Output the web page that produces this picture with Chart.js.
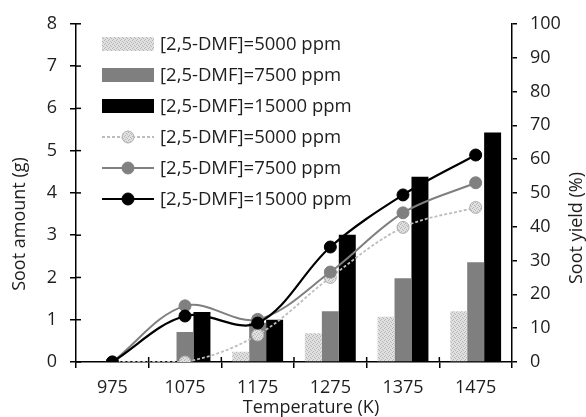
<!DOCTYPE html>
<html>
<head>
<meta charset="utf-8">
<script src="https://cdn.jsdelivr.net/npm/chart.js@4.4.1/dist/chart.umd.min.js"></script>
<style>
  html, body { margin: 0; padding: 0; background: #fff; }
  #wrap { width: 586px; height: 417px; }
</style>
</head>
<body>
<div id="wrap"><canvas id="c" width="586" height="417"></canvas></div>
<script>
// data
const temps = ['975', '1075', '1175', '1275', '1375', '1475'];
const legendNames = ['[2,5-DMF]=5000 ppm', '[2,5-DMF]=7500 ppm', '[2,5-DMF]=15000 ppm'];

// soot amount (g), bars, left axis
const soot5000 = [0, 0, 0.24, 0.68, 1.07, 1.2];
const soot7500 = [0, 0.71, 0.93, 1.2, 1.98, 2.36];
const soot15000 = [0, 1.18, 1.0, 3.01, 4.38, 5.43];

// soot yield (%), lines, right axis
const yield5000 = [0, 0, 8, 25, 39.8, 45.7];
const yield7500 = [0, 16.6, 12.6, 26.6, 44.1, 53];
const yield15000 = [0, 13.6, 11.5, 34, 49.4, 61.2];

const FONT = "'Open Sans', sans-serif";
const INK = '#1e1e1e';

// speckled light grey fill like the scanned bars
function speckle() {
    const p = document.createElement('canvas');
    p.width = 4; p.height = 4;
    const g = p.getContext('2d');
    g.fillStyle = '#e0e0e0';
    g.fillRect(0, 0, 4, 4);
    g.fillStyle = '#b5b5b5';
    g.fillRect(0, 0, 1, 1);
    g.fillRect(2, 1, 1, 1);
    g.fillRect(1, 3, 1, 1);
    g.fillRect(3, 2, 1, 1);
    return document.getElementById('c').getContext('2d').createPattern(p, 'repeat');
}
const lightFill = speckle();

function drawText(ctx, txt, x, y, rot) {
    ctx.save();
    ctx.translate(x, y);
    if (rot) ctx.rotate(-Math.PI / 2);
    ctx.font = '18px ' + FONT;
    ctx.fillStyle = INK;
    ctx.textAlign = 'center';
    ctx.textBaseline = 'middle';
    ctx.fillText(txt, 0, 0);
    ctx.restore();
}

// ticks on the inner side of the left and bottom axes, plus the axis titles
const extras = {
    id: 'extras',
    afterDraw(chart) {
        const ctx = chart.ctx;
        const y = chart.scales.y, x = chart.scales.x;
        ctx.save();
        ctx.strokeStyle = '#000';
        ctx.lineWidth = 1.5;
        y.ticks.forEach((t, i) => {
            const py = y.getPixelForTick(i);
            ctx.beginPath(); ctx.moveTo(y.right, py); ctx.lineTo(y.right + 5, py); ctx.stroke();
        });
        for (let i = 1; i < temps.length; i++) {
            const px = (x.getPixelForValue(i - 1) + x.getPixelForValue(i)) / 2;
            ctx.beginPath(); ctx.moveTo(px, x.top); ctx.lineTo(px, x.top - 5); ctx.stroke();
        }
        ctx.restore();
        drawText(ctx, 'Temperature (K)', 311, 408, false);
        drawText(ctx, 'Soot amount (g)', 20, 224, true);
        drawText(ctx, 'Soot yield (%)', 577, 228, true);
    }
};

// legend inside the plot, top-left
const insideLegend = {
    id: 'insideLegend',
    afterDraw(chart) {
        const ctx = chart.ctx;
        const x0 = 102, x1 = 154, tx = 160;
        let yy = 44;
        ctx.save();
        ctx.font = '18.5px ' + FONT;
        ctx.textBaseline = 'middle';
        chart.data.datasets.forEach(ds => {
            if (ds.type === 'bar') {
                ctx.fillStyle = ds.backgroundColor;
                ctx.fillRect(x0, yy - 7, x1 - x0, 14);
            } else {
                ctx.strokeStyle = ds.borderColor;
                ctx.lineWidth = ds.borderWidth;
                ctx.setLineDash(ds.borderDash || []);
                ctx.beginPath(); ctx.moveTo(x0, yy); ctx.lineTo(x1, yy); ctx.stroke();
                ctx.setLineDash([]);
                ctx.fillStyle = ds.pointBackgroundColor;
                ctx.beginPath(); ctx.arc((x0 + x1) / 2, yy, ds.pointRadius, 0, Math.PI * 2); ctx.fill();
                ctx.lineWidth = 1;
                ctx.strokeStyle = ds.pointBorderColor;
                ctx.stroke();
            }
            ctx.fillStyle = INK;
            ctx.fillText(ds.label, tx, yy + 1);
            yy += 31;
        });
        ctx.restore();
    }
};

function barSet(label, data, color) {
    return { type: 'bar', label, data, yAxisID: 'y', backgroundColor: color, borderWidth: 0, order: 5,
             barPercentage: 1.0, categoryPercentage: 0.7 };
}
function lineSet(label, data, color, width, dash, ptFill, ptBorder, order) {
    return { type: 'line', label, data, yAxisID: 'y2', borderColor: color, borderWidth: width,
             borderDash: dash, tension: 0.35, pointRadius: 6, pointBackgroundColor: ptFill,
             pointBorderColor: ptBorder, pointBorderWidth: 1, fill: false, order };
}

new Chart(document.getElementById('c'), {
    data: {
        labels: temps,
        datasets: [
            barSet(legendNames[0], soot5000, lightFill),
            barSet(legendNames[1], soot7500, '#7f7f7f'),
            barSet(legendNames[2], soot15000, '#000000'),
            lineSet(legendNames[0], yield5000, '#bdbdbd', 1.8, [3, 2], lightFill, '#b0b0b0', 3),
            lineSet(legendNames[1], yield7500, '#7f7f7f', 2, [], '#808080', '#808080', 2),
            lineSet(legendNames[2], yield15000, '#000000', 2.2, [], '#000000', '#000000', 1)
        ]
    },
    options: {
        responsive: false,
        animation: false,
        layout: { padding: { top: 21, right: 0, bottom: 0, left: 0 } },
        plugins: { legend: { display: false }, tooltip: { enabled: false } },
        scales: {
            x: {
                grid: { drawOnChartArea: false, color: '#000', lineWidth: 1.5, tickLength: 6, offset: true },
                border: { color: '#000', width: 1.5 },
                ticks: { color: INK, font: { family: FONT, size: 18 }, padding: 9 },
                afterFit(s) { s.height = 55; }
            },
            y: {
                position: 'left', min: 0, max: 8,
                ticks: { stepSize: 1, color: INK, font: { family: FONT, size: 18 }, padding: 13 },
                grid: { drawOnChartArea: false, color: '#000', lineWidth: 1.5, tickLength: 6 },
                border: { color: '#000', width: 1.5 },
                afterFit(s) { s.width = 76; }
            },
            y2: {
                position: 'right', min: 0, max: 100,
                ticks: { stepSize: 10, color: INK, font: { family: FONT, size: 18 }, padding: 13 },
                grid: { drawOnChartArea: false, color: '#000', lineWidth: 1.5, tickLength: 5 },
                border: { color: '#000', width: 1.5 },
                afterFit(s) { s.width = 74; }
            }
        }
    },
    plugins: [extras, insideLegend]
});
</script>
</body>
</html>
